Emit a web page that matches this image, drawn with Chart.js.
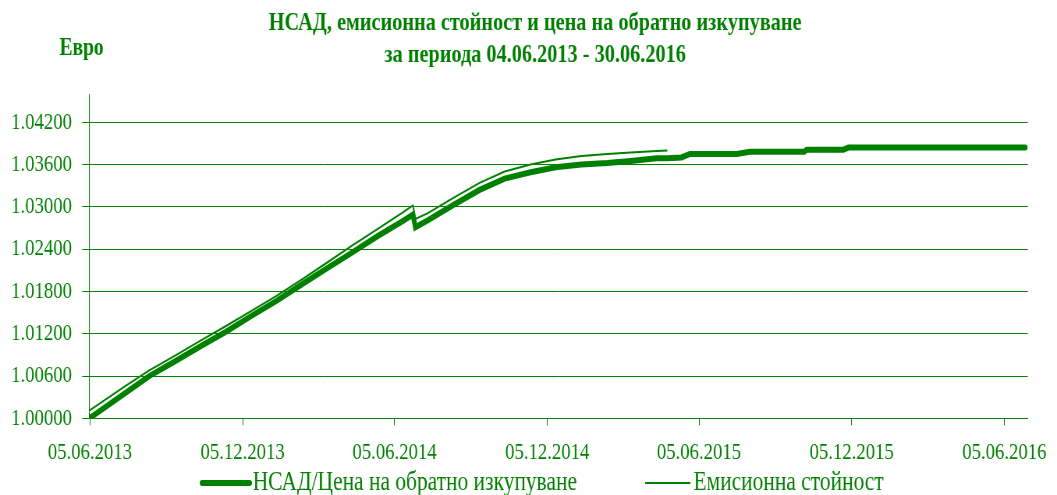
<!DOCTYPE html>
<html>
<head>
<meta charset="utf-8">
<script src="https://cdn.jsdelivr.net/npm/chart.js@4"></script>
<style>
  html, body { margin: 0; padding: 0; background: #fff; }
</style>
</head>
<body>
<!-- chart is drawn 1355px wide and squeezed to 1057px, like the narrow serif look of the original -->
<canvas id="navChart" width="1355" height="495" style="width:1057px;height:495px"></canvas>
<script>
// данни за периода 04.06.2013 - 30.06.2016
const dates = [
    '04.06.2013', '15.07.2013', '15.08.2013', '15.09.2013', '15.10.2013', '15.11.2013',
    '15.12.2013', '15.01.2014', '15.02.2014', '15.03.2014', '15.04.2014', '15.05.2014',
    '15.06.2014', '27.06.2014', '30.06.2014', '15.07.2014', '15.08.2014', '15.09.2014',
    '15.10.2014', '15.11.2014', '15.12.2014', '15.01.2015', '15.02.2015', '15.03.2015',
    '15.04.2015', '28.04.2015', '15.05.2015', '25.05.2015', '20.07.2015', '05.08.2015',
    '09.10.2015', '12.10.2015', '25.11.2015', '01.12.2015', '30.06.2016'
];
// НСАД / цена на обратно изкупуване
const navValues = [
    1.0000, 1.0034, 1.0060, 1.0081, 1.0102, 1.0123,
    1.0145, 1.0167, 1.0191, 1.0212, 1.0235, 1.0258,
    1.0280, 1.0289, 1.0271, 1.0281, 1.0303, 1.0324,
    1.0340, 1.0349, 1.0356, 1.0360, 1.0362, 1.0365,
    1.0369, 1.0369, 1.0370, 1.0375, 1.0375, 1.0378,
    1.0378, 1.0381, 1.0381, 1.0384, 1.0384
];
// емисионна стойност (до края на април 2015)
const issueValues = [
    1.0011, 1.0044, 1.0068, 1.0089, 1.0110, 1.0131,
    1.0152, 1.0174, 1.0198, 1.0220, 1.0245, 1.0268,
    1.0292, 1.0302, 1.0283, 1.0291, 1.0313, 1.0334,
    1.0350, 1.0360, 1.0367, 1.0372, 1.0375, 1.0377,
    1.0379, 1.0380, null, null, null, null,
    null, null, null, null, null
];
const xTickDates = ['05.06.2013', '05.12.2013', '05.06.2014', '05.12.2014', '05.06.2015', '05.12.2015', '05.06.2016'];
const yTicks = [1.000, 1.006, 1.012, 1.018, 1.024, 1.030, 1.036, 1.042];
const seriesNames = ['НСАД/Цена на обратно изкупуване', 'Емисионна стойност'];
const titleLines = ['НСАД, емисионна стойност и цена на обратно изкупуване', 'за периода 04.06.2013 - 30.06.2016'];
const unitLabel = 'Евро';

const green = '#008000';
const serif = "'Liberation Serif', 'Times New Roman', serif";

// дни от 04.06.2013
function dayNum(s) {
    const p = s.split('.');
    return (Date.UTC(+p[2], +p[1] - 1, +p[0]) - Date.UTC(2013, 5, 4)) / 86400000;
}

const navPoints = dates.map((d, i) => ({ x: dayNum(d), y: navValues[i] }));
const issuePoints = dates.map((d, i) => ({ x: dayNum(d), y: issueValues[i] })).filter(p => p.y !== null);

// заглавие, "Евро" и легенда
const textPlugin = {
    id: 'texts',
    afterDraw(chart) {
        const c = chart.ctx;
        c.save();
        c.fillStyle = green;
        c.textBaseline = 'middle';
        c.textAlign = 'center';
        c.font = 'bold 26px ' + serif;
        c.fillText(titleLines[0], 686, 23);
        c.fillText(titleLines[1], 686, 55.5);
        c.font = 'bold 25px ' + serif;
        c.fillText(unitLabel, 104.5, 49);

        // легенда
        const items = [
            { ds: 0, x0: 259, x1: 320, tx: 324 },
            { ds: 1, x0: 827, x1: 885, tx: 889 }
        ];
        c.font = '27.5px ' + serif;
        c.textAlign = 'left';
        items.forEach(it => {
            const ds = chart.data.datasets[it.ds];
            c.strokeStyle = ds.borderColor;
            c.lineWidth = ds.borderWidth;
            c.lineCap = it.ds === 0 ? 'round' : 'butt';
            c.beginPath();
            c.moveTo(it.x0, 483);
            c.lineTo(it.x1, 483);
            c.stroke();
            c.fillText(ds.label, it.tx, 483);
        });
        c.restore();
    }
};

const ctx = document.getElementById('navChart').getContext('2d');
const navChart = new Chart(ctx, {
    type: 'line',
    data: {
        datasets: [{
            label: seriesNames[0],
            data: navPoints,
            borderColor: green,
            backgroundColor: green,
            borderWidth: 6,
            borderCapStyle: 'round',
            pointRadius: 0,
            tension: 0
        }, {
            label: seriesNames[1],
            data: issuePoints,
            borderColor: green,
            backgroundColor: green,
            borderWidth: 2,
            pointRadius: 0,
            tension: 0
        }]
    },
    options: {
        responsive: false,
        devicePixelRatio: 1,
        animation: false,
        layout: {
            padding: { left: 14.3, right: 33.3, top: 94, bottom: 15.6 }
        },
        plugins: {
            legend: { display: false },
            title: { display: false },
            tooltip: { enabled: false }
        },
        scales: {
            x: {
                type: 'linear',
                min: 0,
                max: 1125,
                afterBuildTicks: scale => {
                    scale.ticks = xTickDates.map(d => ({ value: dayNum(d) }));
                },
                ticks: {
                    autoSkip: false,
                    maxRotation: 0,
                    padding: 12.6,
                    color: green,
                    font: { family: serif, size: 24 },
                    callback: (value, index) => xTickDates[index]
                },
                grid: {
                    drawOnChartArea: false,
                    drawTicks: true,
                    tickLength: 7,
                    color: green
                },
                border: { color: green, width: 1 }
            },
            y: {
                min: 1.0,
                max: 1.046,
                afterBuildTicks: scale => {
                    scale.ticks = yTicks.map(v => ({ value: v }));
                },
                afterFit: scale => {
                    scale.width = 100;
                },
                ticks: {
                    padding: 13,
                    color: green,
                    font: { family: serif, size: 24 },
                    callback: value => value.toFixed(5)
                },
                grid: {
                    color: green,
                    lineWidth: 1,
                    tickLength: 9
                },
                border: { color: green, width: 1 }
            }
        }
    },
    plugins: [textPlugin]
});
</script>
</body>
</html>
